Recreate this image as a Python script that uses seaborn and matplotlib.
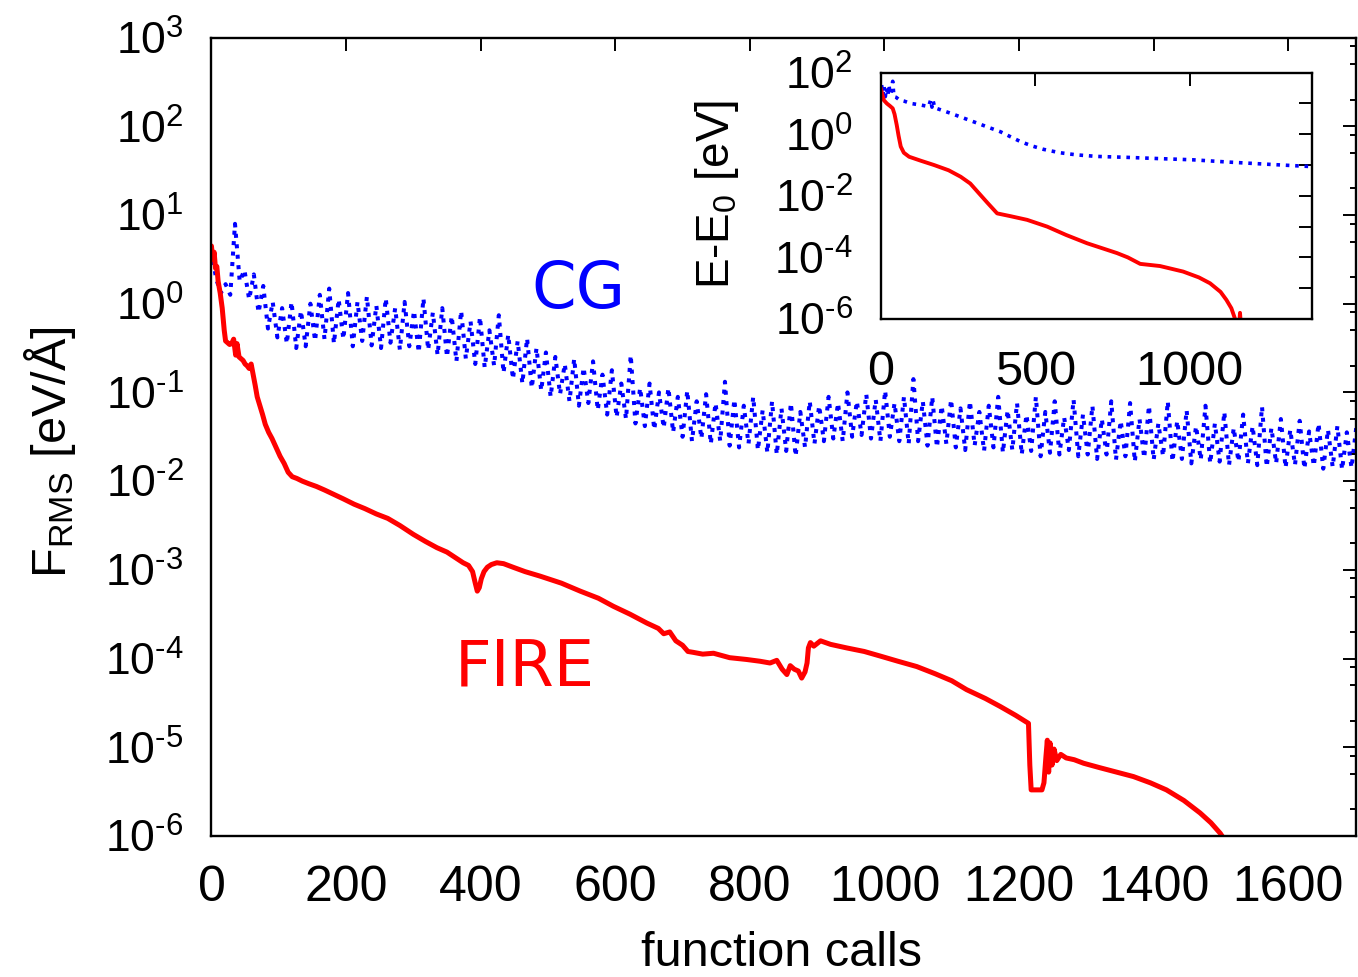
import numpy as np
import pandas as pd
import seaborn as sns
import matplotlib
matplotlib.use("Agg")
import matplotlib.pyplot as plt
from matplotlib.ticker import FixedLocator, FuncFormatter, NullFormatter

# ---------------- data ----------------
# Main panel: RMS force vs. function calls (log10 values)
# CG: dense oscillating trace, alternating trough/peak samples every 7 calls
cg_step = 14
cg_log_trough = [0.60, 0.12, 0.10, 0.25, 0.05, -0.10, -0.28, -0.38, -0.45, -0.50,
                 -0.48, -0.42, -0.40, -0.45, -0.40, -0.48, -0.42, -0.47, -0.50, -0.44,
                 -0.52, -0.48, -0.55, -0.52, -0.58, -0.60, -0.65, -0.62, -0.68, -0.72,
                 -0.70, -0.78, -0.85, -0.90, -0.95, -0.98, -1.05, -1.02, -1.10, -1.15,
                 -1.12, -1.20, -1.25, -1.28, -1.30, -1.35, -1.38, -1.42, -1.40, -1.45,
                 -1.50, -1.55, -1.52, -1.58, -1.55, -1.60, -1.62, -1.58, -1.65, -1.68,
                 -1.70, -1.66, -1.72, -1.62, -1.58, -1.55, -1.52, -1.55, -1.50, -1.48,
                 -1.52, -1.55, -1.50, -1.55, -1.58, -1.55, -1.60, -1.62, -1.58, -1.62,
                 -1.65, -1.60, -1.66, -1.62, -1.68, -1.65, -1.70, -1.66, -1.72, -1.68,
                 -1.70, -1.65, -1.72, -1.70, -1.75, -1.70, -1.76, -1.72, -1.78, -1.74,
                 -1.76, -1.72, -1.78, -1.75, -1.80, -1.76, -1.80, -1.78, -1.82, -1.78,
                 -1.80, -1.82, -1.84, -1.80, -1.85, -1.82, -1.86, -1.83, -1.86, -1.84,
                 -1.87, -1.85]
cg_log_peak = [0.28, 0.22, 0.90, 0.38, 0.33, 0.20, 0.02, -0.05, 0.02, -0.08,
               0.00, 0.10, 0.17, 0.05, 0.12, 0.02, 0.08, -0.02, 0.06, -0.05,
               0.02, -0.08, 0.06, -0.10, -0.05, -0.14, -0.08, -0.20, -0.15, -0.30,
               -0.13, -0.35, -0.42, -0.39, -0.50, -0.55, -0.60, -0.68, -0.62, -0.72,
               -0.65, -0.80, -0.75, -0.90, -0.58, -0.95, -0.90, -1.00, -0.95, -1.05,
               -0.98, -1.10, -1.02, -1.12, -0.88, -1.08, -1.15, -1.05, -1.20, -1.10,
               -1.18, -1.12, -1.22, -1.10, -1.15, -1.05, -1.12, -1.00, -1.10, -1.02,
               -1.08, -0.98, -1.12, -1.05, -0.85, -1.10, -1.05, -1.15, -1.08, -1.18,
               -1.10, -1.22, -1.15, -1.05, -1.20, -1.12, -1.25, -1.05, -1.22, -1.10,
               -1.28, -1.08, -1.25, -1.15, -1.30, -1.10, -1.32, -1.12, -1.30, -1.15,
               -1.35, -1.10, -1.32, -1.20, -1.38, -1.15, -1.35, -1.22, -1.40, -1.25,
               -1.38, -1.16, -1.40, -1.30, -1.42, -1.32, -1.44, -1.35, -1.42, -1.38,
               -1.45, -1.40]

fire_calls = [0, 2, 4, 6, 8, 10, 13, 16, 19, 21, 24, 27, 30, 33, 36, 38, 41, 44, 47, 50,
              53, 56, 59, 62, 65, 68, 72, 76, 80, 85, 90, 96, 102, 108, 114, 120, 127, 135,
              145, 156, 168, 182, 196, 212, 228, 245, 262, 280, 300, 318, 335, 350, 362,
              374, 382, 388, 392, 395, 398, 401, 405, 410, 416, 424, 434, 448, 466, 488,
              520, 548, 575, 597, 622, 647, 664, 672, 681, 690, 700, 708, 716, 730, 746,
              770, 795, 815, 830, 840, 848, 855, 860, 866, 872, 877, 882, 885, 887, 890,
              895, 905, 920, 944, 970, 993, 1020, 1048, 1075, 1100, 1122, 1150, 1172,
              1195, 1214, 1216, 1218, 1234, 1237, 1240, 1242, 1244, 1246, 1249, 1252,
              1256, 1262, 1270, 1282, 1296, 1320, 1345, 1370, 1395, 1419, 1445, 1469,
              1485, 1499, 1506]
fire_log = [0.65, 0.50, 0.58, 0.40, 0.42, 0.25, 0.12, -0.05, -0.30, -0.42, -0.44, -0.46,
            -0.45, -0.40, -0.58, -0.45, -0.60, -0.62, -0.64, -0.68, -0.70, -0.73, -0.68,
            -0.80, -0.92, -1.05, -1.15, -1.25, -1.36, -1.45, -1.52, -1.62, -1.72, -1.80,
            -1.90, -1.95, -1.97, -2.00, -2.03, -2.06, -2.10, -2.15, -2.20, -2.26, -2.31,
            -2.37, -2.42, -2.50, -2.60, -2.68, -2.75, -2.80, -2.86, -2.92, -2.95, -3.02,
            -3.15, -3.24, -3.20, -3.10, -3.02, -2.97, -2.94, -2.92, -2.93, -2.97, -3.02,
            -3.07, -3.15, -3.24, -3.32, -3.41, -3.50, -3.60, -3.66, -3.72, -3.70, -3.80,
            -3.85, -3.92, -3.93, -3.95, -3.94, -3.99, -4.01, -4.03, -4.05, -4.02, -4.12,
            -4.18, -4.08, -4.12, -4.14, -4.22, -4.15, -4.05, -3.88, -3.82, -3.86, -3.80,
            -3.84, -3.88, -3.92, -3.97, -4.03, -4.09, -4.17, -4.25, -4.35, -4.45, -4.54,
            -4.64, -4.73, -5.20, -5.48, -5.48, -5.40, -5.10, -4.92, -5.28, -4.95, -5.20,
            -5.02, -5.15, -5.08, -5.12, -5.14, -5.18, -5.23, -5.28, -5.33, -5.40, -5.48,
            -5.60, -5.74, -5.85, -5.97, -6.05]

# Inset: energy error vs. function calls (log10 values)
inset_cg_calls = [0, 3, 7, 11, 15, 19, 23, 27, 31, 35, 39, 43, 50, 60, 75, 98, 130, 155,
                  162, 166, 170, 175, 227, 270, 313, 350, 388, 420, 453, 490, 527, 580,
                  635, 700, 797, 900, 1011, 1120, 1227, 1300, 1395]
inset_cg_log = [1.30, 1.60, 1.28, 1.55, 1.22, 1.50, 1.25, 1.58, 1.30, 1.45, 1.72, 1.22,
                1.20, 1.12, 1.08, 1.00, 0.95, 0.90, 1.12, 0.88, 1.08, 0.86, 0.68, 0.52,
                0.36, 0.22, 0.08, -0.08, -0.24, -0.38, -0.49, -0.60, -0.67, -0.72, -0.75,
                -0.79, -0.83, -0.90, -0.96, -1.00, -1.05]
inset_fire_calls = [0, 5, 10, 20, 30, 39, 45, 52, 58, 65, 75, 92, 130, 173, 220, 259, 290,
                    313, 345, 377, 420, 474, 539, 600, 668, 765, 800, 840, 904, 979, 1030,
                    1066, 1100, 1119, 1135, 1146, 1152, 1158, 1163, 1168]
inset_fire_log = [1.50, 1.30, 1.11, 1.00, 0.92, 0.84, 0.65, 0.30, -0.05, -0.40, -0.60,
                  -0.73, -0.86, -1.00, -1.17, -1.38, -1.60, -1.86, -2.22, -2.57, -2.66,
                  -2.78, -3.00, -3.27, -3.54, -3.86, -4.00, -4.21, -4.28, -4.46, -4.65,
                  -4.84, -5.12, -5.38, -5.65, -5.97, -6.50, -6.50, -5.80, -6.50]

main_xticks = [0, 200, 400, 600, 800, 1000, 1200, 1400, 1600]
main_yexp = [-6, -5, -4, -3, -2, -1, 0, 1, 2, 3]
inset_xticks = [0, 500, 1000]
inset_yexp = [-6, -5, -4, -3, -2, -1, 0, 1, 2]

# ---------------- frames ----------------
cg_calls = np.column_stack([np.arange(len(cg_log_trough)) * cg_step,
                            np.arange(len(cg_log_peak)) * cg_step + cg_step / 2]).ravel()
cg_vals = np.column_stack([cg_log_trough, cg_log_peak]).ravel()
df_cg = pd.DataFrame({"calls": cg_calls, "F": 10.0 ** cg_vals})
df_fire = pd.DataFrame({"calls": fire_calls, "F": 10.0 ** np.array(fire_log)})
df_icg = pd.DataFrame({"calls": inset_cg_calls, "E": 10.0 ** np.array(inset_cg_log)})
df_ifire = pd.DataFrame({"calls": inset_fire_calls, "E": 10.0 ** np.array(inset_fire_log)})

# ---------------- style ----------------
sns.set_style("white")
plt.rcParams["font.family"] = ["Liberation Sans", "DejaVu Sans"]
plt.rcParams["mathtext.default"] = "regular"
plt.rcParams["axes.linewidth"] = 1.7
plt.rcParams["axes.edgecolor"] = "black"
plt.rcParams["text.color"] = "black"
plt.rcParams["axes.labelcolor"] = "black"
plt.rcParams["xtick.color"] = "black"
plt.rcParams["ytick.color"] = "black"
plt.rcParams["xtick.labelcolor"] = "black"
plt.rcParams["ytick.labelcolor"] = "black"

BLUE = "#0000ff"
RED = "#ff0000"
DOTS = (0, (1.0, 1.6))
HYPHEN = "\u2010"

fig = plt.figure(figsize=(13.58, 9.77), dpi=100)
ax = fig.add_axes([0.1557, 0.1443, 0.8425, 0.8173])

sns.lineplot(data=df_cg, x="calls", y="F", ax=ax, color=BLUE, linewidth=2.9,
             estimator=None, sort=False, legend=False)
ax.lines[-1].set_linestyle(DOTS)
sns.lineplot(data=df_fire, x="calls", y="F", ax=ax, color=RED, linewidth=3.6,
             estimator=None, sort=False, legend=False)

ax.set_yscale("log")
ax.set_xlim(0, 1700)
ax.set_ylim(1e-6, 1e3)
ax.set_xlabel("")
ax.set_ylabel("")


def pow_label(v, pos=None):
    e = int(round(np.log10(v)))
    if e < 0:
        return "$10^{" + HYPHEN + "%d}$" % abs(e)
    return "$10^{%d}$" % e


ax.xaxis.set_major_locator(FixedLocator(main_xticks))
ax.yaxis.set_major_locator(FixedLocator([10.0 ** e for e in main_yexp]))
ax.yaxis.set_minor_locator(FixedLocator([m * 10.0 ** e for e in main_yexp[:-1] for m in (2, 5, 8)]))
ax.yaxis.set_major_formatter(FuncFormatter(pow_label))
ax.yaxis.set_minor_formatter(NullFormatter())
ax.xaxis.set_major_formatter(FuncFormatter(lambda v, p: "%d" % v))
ax.tick_params(which="both", direction="in", top=True, right=True, width=1.4, color="black")
ax.tick_params(which="major", length=9.5)
ax.tick_params(which="minor", length=4.5)
ax.tick_params(axis="x", which="major", labelsize=36, pad=21)
ax.tick_params(axis="y", which="major", labelsize=32, pad=20)
for s in ax.spines.values():
    s.set_visible(True)

ax.text(546, 10 ** -0.05, "CG", color=BLUE, fontsize=46, ha="center", va="baseline",
        family="DejaVu Sans")
ax.text(466, 10 ** -4.30, "FIRE", color=RED, fontsize=46, ha="center", va="baseline",
        family="DejaVu Sans")

fig.text(50 / 1358, 1 - 452 / 977, r"$F_{RMS}$ [eV/Å]", rotation=90, ha="center",
         va="center", fontsize=35)
fig.text(782 / 1358, 1 - 954 / 977, "function calls", ha="center", va="center", fontsize=35)

# ---------------- inset ----------------
axi = fig.add_axes([0.6485, 0.6735, 0.3174, 0.2521])
axi.set_facecolor("white")
sns.lineplot(data=df_icg, x="calls", y="E", ax=axi, color=BLUE, linewidth=2.6,
             estimator=None, sort=False, legend=False)
axi.lines[-1].set_linestyle(DOTS)
sns.lineplot(data=df_ifire, x="calls", y="E", ax=axi, color=RED, linewidth=2.8,
             estimator=None, sort=False, legend=False)
axi.set_yscale("log")
axi.set_xlim(0, 1395)
axi.set_ylim(1e-6, 1e2)
axi.set_xlabel("")
axi.set_ylabel("")
axi.xaxis.set_major_locator(FixedLocator(inset_xticks))
axi.xaxis.set_major_formatter(FuncFormatter(lambda v, p: "%d" % v))
axi.yaxis.set_major_locator(FixedLocator([10.0 ** e for e in inset_yexp]))
axi.yaxis.set_minor_locator(FixedLocator([]))
axi.yaxis.set_major_formatter(FuncFormatter(
    lambda v, p: pow_label(v) if int(round(np.log10(v))) % 2 == 0 else ""))
axi.tick_params(which="both", direction="in", top=True, right=True, width=1.4,
                length=9.5, color="black")
axi.tick_params(axis="x", labelsize=35, pad=22)
axi.tick_params(axis="y", labelsize=32, pad=20)
for s in axi.spines.values():
    s.set_visible(True)
fig.text(717 / 1358, 1 - 195 / 977, r"E-$E_0$ [eV]", rotation=90, ha="center",
         va="center", fontsize=33)

fig.savefig("out.png", dpi=100, facecolor="white")
